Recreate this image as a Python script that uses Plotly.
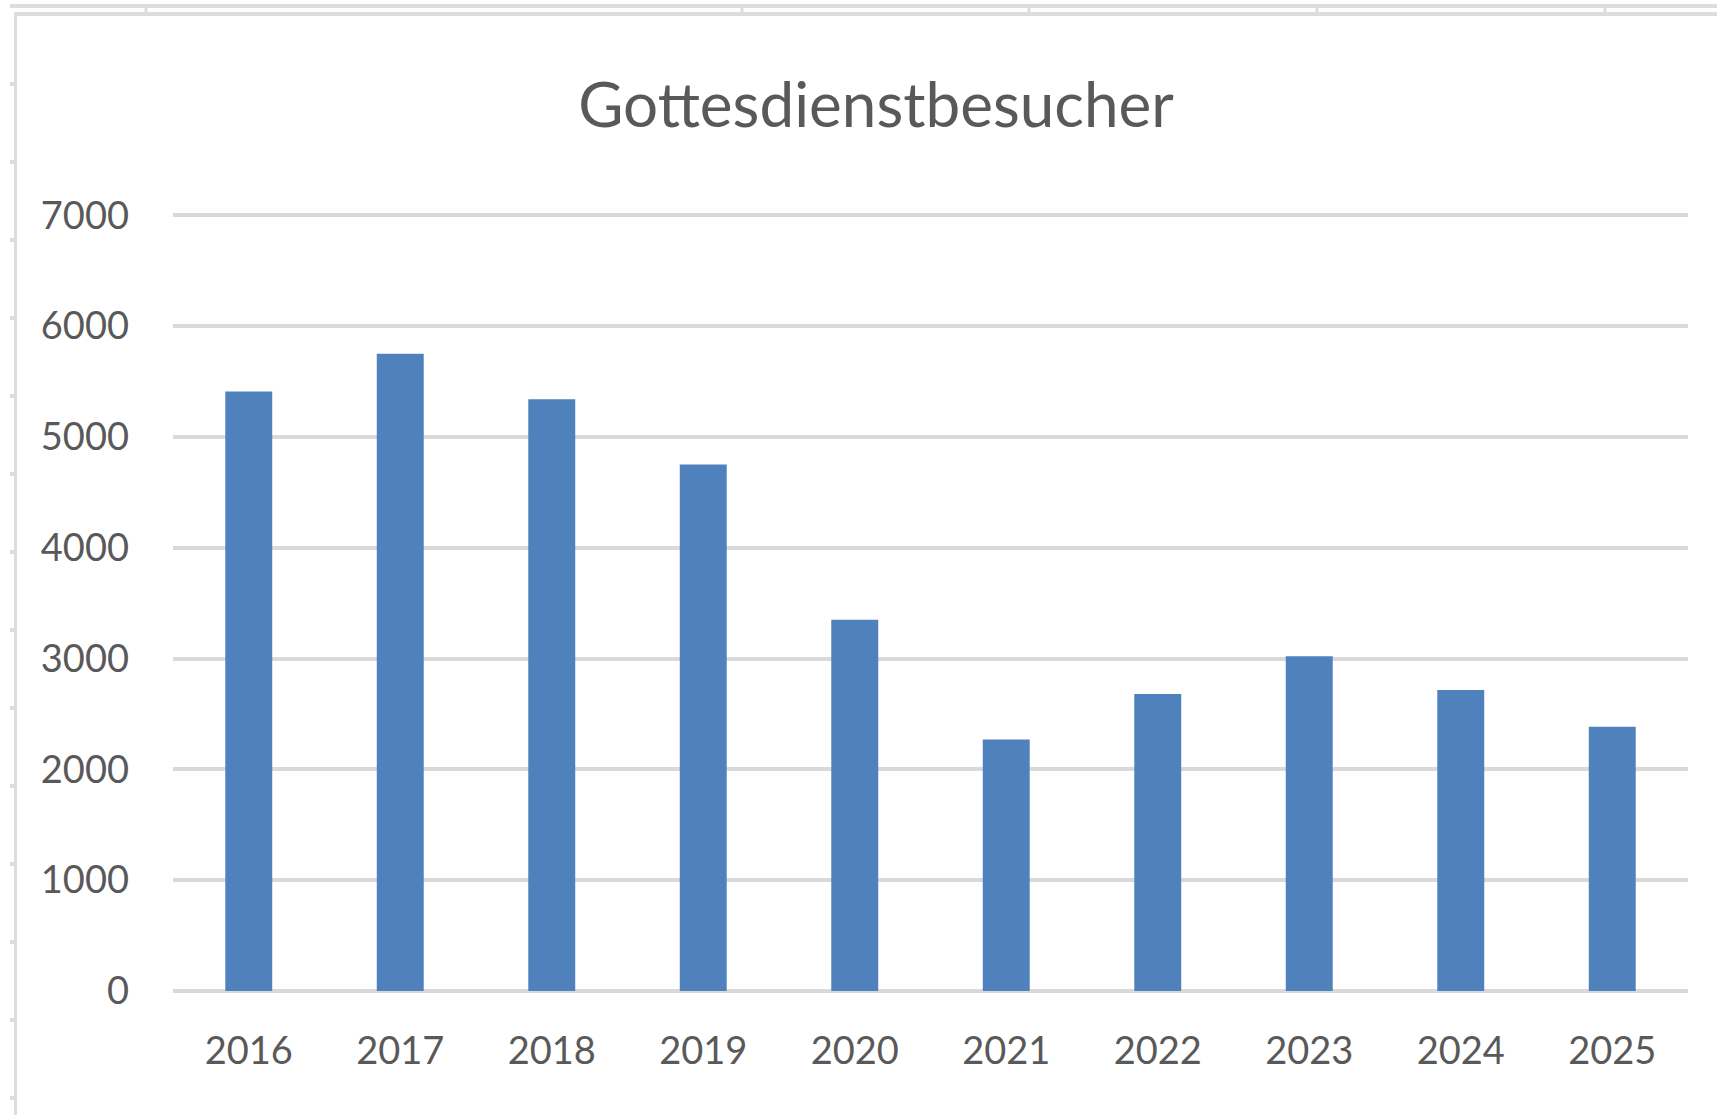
import plotly.graph_objects as go

years = ["2016", "2017", "2018", "2019", "2020", "2021", "2022", "2023", "2024", "2025"]
visitors = [5410, 5750, 5340, 4750, 3350, 2270, 2680, 3020, 2715, 2385]
y_ticks = [0, 1000, 2000, 3000, 4000, 5000, 6000, 7000]
title_text = "Gottesdienstbesucher"

W, H = 1717, 1115
Y_TOP = 7020
ML, MR, MT, MB = 173, 29, 213, 124
PW, PH = W - ML - MR, H - MT - MB
BAR = "#4F81BD"
GRID = "#D9D9D9"
TXT = "#595959"
FRAME = "#DDDDDD"
FONT = "Lato, 'Noto Sans', sans-serif"

fig = go.Figure(go.Bar(x=years, y=visitors, marker=dict(color=BAR, line=dict(width=0)),
                       hoverinfo="x+y"))


def px_x(v):
    return (v - ML) / PW


def px_y(v):
    return (H - MB - v) / PH


def frame_rect(x0, x1, y0, y1):
    return dict(type="rect", xref="paper", yref="paper",
                x0=px_x(x0), x1=px_x(x1), y0=px_y(y1), y1=px_y(y0),
                fillcolor=FRAME, line=dict(width=0), layer="above")


shapes = []
shapes.append(frame_rect(10, W, 4, 8))     # outer top line (sheet grid)
shapes.append(frame_rect(14, W, 12, 16))   # chart top border
shapes.append(frame_rect(14, 17, 12, H))   # chart left border
for cx in [146, 742, 1029, 1317, 1605]:
    shapes.append(frame_rect(cx - 1.5, cx + 1.5, 8, 12))
for k in range(14):
    cy = 84 + 78 * k
    shapes.append(frame_rect(10, 14, cy - 2, cy + 2))

fig.update_layout(
    width=W, height=H,
    margin=dict(l=ML, r=MR, t=MT, b=MB, pad=0),
    paper_bgcolor="white", plot_bgcolor="white",
    bargap=0.69,
    showlegend=False,
    font=dict(family=FONT, color=TXT),
    title=dict(text=title_text, x=876 / W, xanchor="center", xref="container",
               y=1 - 105 / H, yanchor="middle", yref="container",
               font=dict(family=FONT, size=62, color=TXT)),
    shapes=shapes,
)
fig.update_yaxes(range=[0, Y_TOP], tickvals=y_ticks, ticktext=[str(v) for v in y_ticks],
                 showgrid=True, gridcolor=GRID, gridwidth=4,
                 zeroline=True, zerolinecolor=GRID, zerolinewidth=4,
                 showline=False, ticks="", ticklabelstandoff=43,
                 tickfont=dict(family=FONT, size=38, color=TXT), fixedrange=True)
fig.update_xaxes(showgrid=False, showline=False, ticks="", ticklabelstandoff=34,
                 tickfont=dict(family=FONT, size=38, color=TXT), fixedrange=True)

fig.write_html("out.html", config={"displayModeBar": False},
               post_script="document.body.style.margin='0px';document.body.style.overflow='hidden';")
